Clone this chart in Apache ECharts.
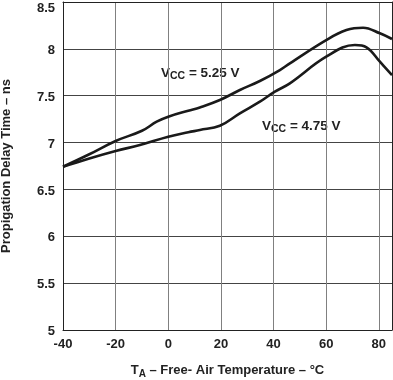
<!DOCTYPE html>
<html><head><meta charset="utf-8">
<script src="https://cdn.jsdelivr.net/npm/echarts@6/dist/echarts.min.js"></script>
<style>html,body{margin:0;padding:0;background:#fff}#c{width:393px;height:380px}</style>
</head><body><div id="c"></div>
<script>
const xTicks = [-40, -20, 0, 20, 40, 60, 80];
const yTicks = [5, 5.5, 6, 6.5, 7, 7.5, 8, 8.5];
const tempHigh = [-40, -30, -20, -10, -4.4, 0, 7.6, 12, 19.6, 27.2, 34.8, 42.4, 46.2, 60, 67.7, 74, 80.4, 85];
const vcc525 = [6.742, 6.875, 7.017, 7.126, 7.223, 7.276, 7.34, 7.375, 7.454, 7.561, 7.657, 7.774, 7.846, 8.094, 8.201, 8.226, 8.166, 8.105];
const tempLow = [-40, -30, -20, -10.8, 0, 7.6, 12, 19.6, 27.2, 34.8, 40.5, 46.2, 60, 70.9, 75.3, 80.4, 85];
const vcc475 = [6.742, 6.83, 6.91, 6.974, 7.063, 7.11, 7.134, 7.18, 7.312, 7.436, 7.543, 7.632, 7.916, 8.041, 8.017, 7.863, 7.721];

const chart = echarts.init(document.getElementById('c'));
const font = 'Liberation Sans, Arial, sans-serif';
const frameAxis = { show: true, onZero: false, lineStyle: { color: '#222', width: 1 } };
const tickFont = { fontFamily: font, fontWeight: 'bold', fontSize: 13, color: '#222' };
chart.setOption({
  animation: false,
  grid: { left: 63, right: 1, top: 2, bottom: 50, outerBoundsMode: 'none', containLabel: false },
  xAxis: [{
    type: 'value', min: -40, max: 85, interval: 20,
    axisLine: frameAxis,
    axisTick: { show: true, length: 0 },
    axisLabel: Object.assign({ margin: 8, formatter: v => xTicks.includes(v) ? String(v) : '' }, tickFont),
    splitLine: { show: true, lineStyle: { color: '#808080', width: 1 } },
    name: '{t|T}{s|A}{t| – Free- Air Temperature – °C}',
    nameLocation: 'middle', nameGap: 31,
    nameTextStyle: { rich: {
      t: { fontFamily: font, fontWeight: 'bold', fontSize: 13, color: '#222' },
      s: { fontFamily: font, fontWeight: 'bold', fontSize: 10, color: '#222', padding: [8,0,0,0] }
    } }
  }, {
    type: 'value', position: 'top', min: -40, max: 85, interval: 20,
    axisLine: frameAxis, axisTick: { show: false }, axisLabel: { show: false }, splitLine: { show: false }
  }],
  yAxis: [{
    type: 'value', min: 5, max: 8.5, interval: 0.5,
    axisLine: frameAxis,
    axisTick: { show: true, length: 0 },
    axisLabel: Object.assign({ margin: 8,
      formatter: v => !yTicks.includes(v) ? '' : (v === 8.5 ? '{top|8.5}' : String(v)),
      rich: { top: Object.assign({ padding: [10, 0, 0, 0] }, tickFont) },
      padding: [3, 0, 0, 0] }, tickFont),
    splitLine: { show: true, lineStyle: { color: '#444', width: 1 } },
    name: 'Propigation Delay Time – ns',
    nameLocation: 'middle', nameGap: 50,
    nameTextStyle: { fontFamily: font, fontWeight: 'bold', fontSize: 13, color: '#222' }
  }, {
    type: 'value', position: 'right', min: 5, max: 8.5, interval: 0.5,
    axisLine: frameAxis, axisTick: { show: false }, axisLabel: { show: false }, splitLine: { show: false }
  }],
  series: [
    { type: 'line', data: tempHigh.map((t, i) => [t, vcc525[i]]), smooth: 0.4, showSymbol: false,
      lineStyle: { color: '#1a1a1a', width: 2.6 } },
    { type: 'line', data: tempLow.map((t, i) => [t, vcc475[i]]), smooth: 0.4, showSymbol: false,
      lineStyle: { color: '#1a1a1a', width: 2.6 } }
  ],
  graphic: [
    { type: 'text', left: 161, top: 66, style: { rich: {
        t: { fontFamily: font, fontWeight: 'bold', fontSize: 13.5, fill: '#222' },
        s: { fontFamily: font, fontWeight: 'bold', fontSize: 10.5, fill: '#222', padding: [6,0,0,0] } },
        text: '{t|V}{s|CC}{t| = 5.25 V}' } },
    { type: 'text', left: 262, top: 119, style: { rich: {
        t: { fontFamily: font, fontWeight: 'bold', fontSize: 13.5, fill: '#222' },
        s: { fontFamily: font, fontWeight: 'bold', fontSize: 10.5, fill: '#222', padding: [6,0,0,0] } },
        text: '{t|V}{s|CC}{t| = 4.75 V}' } }
  ]
});
</script></body></html>
